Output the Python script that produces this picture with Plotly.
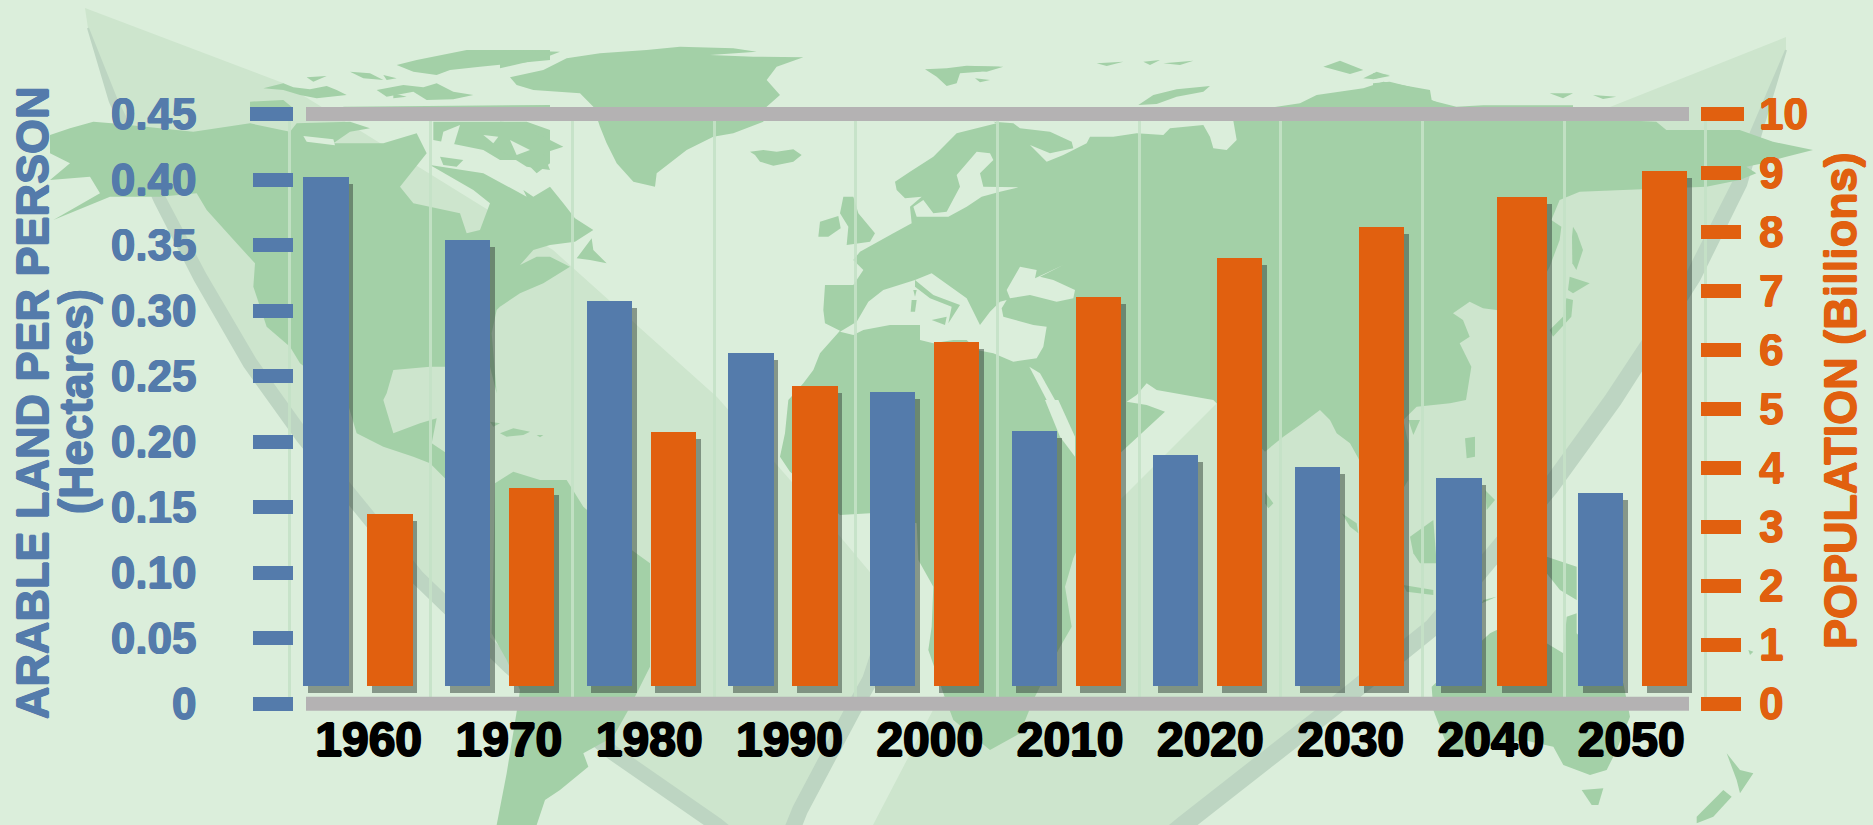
import plotly.graph_objects as go

# ---------- data ----------
years = [1960, 1970, 1980, 1990, 2000, 2010, 2020, 2030, 2040, 2050]
arable_land = [0.402, 0.354, 0.307, 0.268, 0.238, 0.208, 0.190, 0.181, 0.172, 0.161]
population = [3.21, 3.65, 4.61, 5.39, 6.13, 6.90, 7.56, 8.09, 8.59, 9.03]
left_ticks = [0, 0.05, 0.10, 0.15, 0.20, 0.25, 0.30, 0.35, 0.40, 0.45]
left_labels = ["0", "0.05", "0.10", "0.15", "0.20", "0.25", "0.30", "0.35", "0.40", "0.45"]
right_ticks = [0, 1, 2, 3, 4, 5, 6, 7, 8, 9, 10]
grid_years = [1955 + 10 * i for i in range(11)]

# ---------- layout constants (pixels of the 1873x825 page) ----------
W, H = 1873, 825
BG, LEAF, STEM, LAND = "#dbeedb", "#cde5cd", "#bdd5c2", "#a3d0a7"
BLUE, ORANGE, GREY, SHADOW = "#547bab", "#e1600f", "#b4b2b3", "rgba(55,70,62,0.52)"
FONT = "Liberation Sans"
Y_TOP, Y_ZERO = 114.0, 703.7
PX_YEAR = 14.165
X_1955 = 289.3
X_LO, X_HI = 1954, 2056


def xpx(year):
    return X_1955 + (year - 1955) * PX_YEAR


def fx(px):
    return px / W


def fy(px):
    return 1 - px / H


def z(x0, y0, pts):
    return [(x0 + a / 3, y0 + b / 3) for a, b in pts]


def path(pts, close=True):
    s = "M " + " L ".join(f"{fx(a):.5f},{fy(b):.5f}" for a, b in pts)
    return s + (" Z" if close else "")


def ribbon(pts, widths):
    left, right = [], []
    n = len(pts)
    for i, (a, b) in enumerate(pts):
        a0, b0 = pts[max(i - 1, 0)]
        a1, b1 = pts[min(i + 1, n - 1)]
        dx, dy = a1 - a0, b1 - b0
        d = (dx * dx + dy * dy) ** 0.5 or 1
        nx, ny = -dy / d * widths[i] / 2, dx / d * widths[i] / 2
        left.append((a + nx, b + ny))
        right.append((a - nx, b - ny))
    return left + right[::-1]


def heavy(color, d=0.7):
    return (f"{d}px 0 0 {color}, -{d}px 0 0 {color}, 0 {d}px 0 {color}, 0 -{d}px 0 {color}")


# ---------- background artwork ----------
left_stem = [(88, 28), (113, 100), (160, 200), (200, 277), (250, 363), (303, 437),
             (417, 577), (510, 667), (613, 753), (717, 825), (735, 840)]
left_upper = [(85, 8), (283, 83), (553, 250), (717, 397), (843, 540), (885, 590)]
mid_stem = [(880, 650), (870, 680), (853, 710), (800, 810), (790, 835)]
right_edge = [(1786, 37), (1610, 107), (1500, 165), (1300, 320), (1150, 470), (1010, 610), (933, 710), (873, 825)]
right_stem = [(1786, 50), (1756, 133), (1740, 183), (1693, 277), (1613, 400), (1550, 487), (1433, 627),
              (1330, 710), (1183, 825), (1165, 840)]

leaf_left = left_upper + [(880, 650), (800, 825)] + left_stem[::-1][1:]
leaf_right = right_edge + [(1183, 825)] + right_stem[::-1][2:]

old_world = (
    z(500, 0, [(1020, 992), (960, 1060), (940, 1110), (910, 1150)])
    + z(700, 400, [(265, 0), (255, 100), (240, 170), (270, 215), (420, 345), (510, 340), (650, 370), (655, 480),
                   (700, 560), (695, 680), (685, 750), (730, 880), (760, 960), (870, 1050), (960, 1000), (1000, 900),
                   (1075, 750), (1115, 680), (1095, 560), (1120, 475), (1260, 160), (1395, 35), (1340, 15), (1280, 5)])
    + z(950, 0, [(560, 1185), (590, 1150), (620, 1170), (760, 1195)])
    + z(1150, 400, [(190, 0), (345, 155), (400, 110), (450, 75), (510, 30), (540, 60), (560, 100), (600, 130),
                    (625, 175), (690, 340), (720, 330), (775, 240), (775, 130), (760, 60), (800, 20), (900, 10), (948, 0)])
    + z(1373, 0, [(295, 1100), (260, 1030), (290, 1010), (270, 960), (240, 940), (290, 905), (330, 925), (370, 930),
                  (450, 950), (530, 800), (560, 720), (565, 680), (535, 660), (560, 600), (620, 575), (750, 570),
                  (1000, 560), (1100, 540), (1150, 520), (1120, 500), (1170, 490), (1240, 470), (1320, 450),
                  (1200, 425), (1100, 390), (880, 390), (850, 365), (740, 360), (500, 355)])
    + z(950, 0, [(1000, 362), (900, 362), (850, 362), (860, 420), (830, 450), (790, 445), (780, 410), (760, 375),
                 (660, 385), (640, 405), (560, 400), (490, 410), (420, 410), (410, 430), (340, 465), (290, 485),
                 (240, 435), (300, 460), (370, 445), (365, 425), (300, 395), (210, 385), (190, 370), (130, 365)])
    + z(500, 0, [(1490, 370), (1370, 400), (1300, 470), (1230, 515), (1185, 545), (1190, 570), (1215, 595),
                 (1265, 590), (1230, 620), (1235, 670), (1180, 700), (1080, 755), (1060, 780), (1090, 810), (1060, 855),
                 (975, 855), (970, 930), (975, 970)])
)
north_america = (
    z(50, 0, [(0, 405), (60, 385), (130, 365), (185, 370), (430, 395), (600, 370), (720, 395), (740, 370), (900, 365),
              (960, 385), (900, 395), (850, 430), (1000, 430), (1100, 400), (1130, 460), (1050, 560), (1090, 610),
              (1230, 640), (1250, 700), (1290, 690), (1320, 610), (1270, 570), (1140, 495), (1300, 520), (1430, 590)])
    + z(500, 0, [(70, 570), (100, 590), (150, 560), (190, 610), (225, 655), (280, 690), (225, 725), (150, 735),
                 (100, 750), (60, 795), (110, 770), (150, 770), (210, 800), (130, 850), (60, 880), (0, 920)])
    + z(50, 0, [(1400, 870), (1340, 930), (1325, 1000), (1340, 1180), (1320, 1100), (1140, 1100), (1030, 1110), (1010, 1180)])
    + z(250, 400, [(400, 0), (430, 100), (510, 70), (560, 55), (545, 130), (590, 160), (590, 240), (540, 190),
                   (490, 170), (400, 140), (320, 100), (290, 0)])
    + z(50, 0, [(750, 1090), (720, 1040), (650, 980), (610, 860), (615, 790), (560, 730), (470, 630), (440, 580),
                (330, 590), (180, 590), (10, 660), (150, 580), (120, 530), (0, 540), (60, 490), (0, 460)])
)
south_america = z(250, 400, [(735, 250), (790, 215), (870, 240), (950, 240), (1000, 320), (1145, 450), (1200, 490),
                             (1200, 800), (1135, 930), (1090, 1010), (1000, 1060), (1015, 1100), (930, 1170),
                             (885, 1200), (860, 1275), (740, 1275), (770, 1120), (800, 935), (810, 870), (770, 780),
                             (725, 700), (730, 500)])
land = [old_world, north_america, south_america]
land += [z(50, 0, p) for p in [
    [(1040, 195), (1100, 180), (1250, 150), (1500, 150), (1500, 180), (1290, 200), (1200, 210), (1160, 225), (1090, 215)],
    [(1390, 235), (1450, 225), (1500, 215), (1500, 270), (1440, 265), (1420, 245)],
    [(900, 215), (960, 220), (1000, 240), (940, 235)],
    [(1000, 225), (1040, 235), (1010, 240)],
    [(640, 265), (700, 250), (730, 262), (780, 268), (830, 258), (860, 270), (890, 285), (800, 295), (750, 285), (700, 270)],
    [(980, 270), (1060, 255), (1120, 262), (1160, 250), (1210, 275), (1270, 285), (1210, 298), (1130, 300), (1090, 275), (1010, 290)],
    [(770, 232), (830, 228), (790, 245)],
    [(1030, 280), (1070, 290), (1030, 295)],
    [(600, 305), (700, 300), (730, 325), (600, 325)],
    [(880, 320), (1500, 315), (1500, 330), (880, 330)],
    [(1150, 365), (1430, 365), (1500, 390), (1500, 490), (1460, 520), (1420, 480), (1350, 480), (1300, 450), (1200, 430), (1150, 420)],
    [(1170, 470), (1240, 480), (1220, 500), (1180, 495)],
]]
land += [z(500, 0, p) for p in [
    [(0, 150), (180, 155), (130, 175), (0, 205)],
    [(0, 365), (90, 370), (110, 400), (190, 440), (130, 460), (150, 510), (80, 500), (0, 450)],
    [(30, 232), (130, 210), (200, 175), (300, 160), (440, 150), (540, 140), (700, 145), (770, 155), (630, 165), (760, 170),
     (910, 172), (830, 200), (800, 240), (840, 285), (800, 320), (790, 365), (700, 400), (640, 410), (560, 450), (470, 520),
     (465, 560), (400, 545), (350, 490), (320, 430), (300, 380), (295, 365), (280, 320), (240, 280), (100, 270), (50, 255)],
    [(750, 455), (790, 450), (830, 455), (880, 448), (905, 465), (880, 485), (820, 497), (780, 485), (765, 465)],
    [(1275, 208), (1340, 205), (1400, 197), (1500, 200), (1440, 215), (1380, 220), (1370, 250), (1340, 258), (1310, 230)],
    [(1425, 235), (1470, 240), (1440, 247)],
    [(230, 775), (275, 715), (280, 750), (320, 790), (270, 780)],
    [(960, 665), (1015, 648), (1022, 685), (985, 710), (955, 710)],
    [(1030, 590), (1060, 590), (1075, 640), (1125, 700), (1110, 725), (1040, 735), (1045, 680), (1020, 640)],
]]
land += [z(950, 0, p) for p in [
    [(40, 198), (160, 200), (110, 215), (50, 212)],
    [(565, 315), (610, 285), (680, 268), (780, 258), (760, 275), (680, 290), (620, 312)],
    [(440, 190), (520, 185), (470, 198)], [(580, 185), (630, 180), (600, 195)], [(640, 190), (730, 182), (690, 195)],
    [(1120, 200), (1170, 182), (1240, 210), (1200, 222)], [(1240, 235), (1280, 215), (1320, 228), (1270, 238)],
    [(950, 325), (1050, 310), (1100, 285), (1240, 265), (1300, 245), (1440, 270), (1445, 300), (1500, 325)],
]]
land += [z(1373, 0, p) for p in [
    [(0, 250), (50, 245), (170, 275), (170, 300), (250, 320), (330, 316), (600, 316), (600, 330), (0, 330)],
    [(530, 280), (600, 280), (570, 295)], [(660, 285), (730, 290), (690, 297)], [(0, 220), (50, 225), (0, 238)],
    [(600, 680), (612, 700), (630, 750), (610, 810), (598, 790), (597, 710)],
    [(590, 830), (650, 850), (600, 880), (585, 870)],
    [(580, 895), (600, 900), (595, 950), (540, 1010), (530, 990), (570, 950)],
]]
land += [z(1150, 400, p) for p in [
    [(345, 275), (370, 310), (355, 325), (345, 310)],
    [(780, 410), (850, 360), (860, 490), (810, 490), (790, 460)],
    [(760, 555), (850, 570), (850, 585), (770, 575)],
    [(575, 340), (620, 370), (625, 400), (600, 380)],
    [(775, 60), (810, 60), (790, 105)],
    [(945, 115), (975, 110), (975, 170), (950, 175)],
    [(1005, 270), (1035, 300), (1010, 330)],
    [(995, 610), (1040, 590), (1000, 600)],
    [(1190, 470), (1280, 500), (1280, 600), (1230, 570), (1190, 520)],
    [(845, 860), (1020, 700), (1040, 690), (1190, 730), (1240, 760), (1250, 650), (1280, 640), (1280, 700), (1420, 850),
     (1440, 950), (1400, 1050), (1370, 1110), (1320, 1125), (1240, 1095), (1210, 1040), (1120, 1020), (900, 1060), (850, 930)],
    [(1295, 1170), (1360, 1165), (1345, 1215), (1325, 1215)],
]]
land += [z(1500, 400, p) for p in [
    [(680, 1060), (720, 1110), (760, 1120), (720, 1180), (710, 1140)],
    [(670, 1170), (695, 1190), (640, 1250), (590, 1270), (590, 1250)],
    [(745, 750), (760, 755), (750, 765)],
]]
land += [z(250, 400, p) for p in [
    [(750, 100), (790, 85), (840, 95), (820, 105), (770, 110)],
    [(860, 105), (880, 105), (870, 112)],
    [(720, 65), (750, 70), (730, 80)],
]]

seas = [
    z(500, 0, [(1020, 995), (1070, 965), (1105, 905), (1150, 870), (1245, 840), (1295, 820), (1400, 895), (1440, 975), (1470, 935),
               (1500, 905), (1520, 900), (1505, 925), (1510, 950), (1600, 975), (1640, 980), (1630, 1040), (1610, 1075),
               (1540, 1085), (1480, 1060), (1430, 1050), (1400, 1020), (1360, 1020), (1300, 1030), (1260, 1020), (1260, 975),
               (1170, 975), (1090, 990), (1060, 1005)]),
    z(950, 0, [(170, 870), (210, 800), (260, 810), (255, 835), (340, 795), (270, 830), (310, 840), (375, 870), (370, 895),
               (320, 905), (240, 885), (180, 895)]),
    z(700, 400, [(1035, 0), (1075, 0), (1125, 110), (1125, 170), (1080, 110)]),
    z(950, 0, [(238, 1100), (270, 1120), (315, 1200), (290, 1200)]),
    z(500, 0, [(1470, 460), (1430, 455), (1370, 525), (1380, 560), (1340, 635), (1300, 640), (1270, 600), (1240, 620), (1250, 650),
               (1345, 650), (1400, 620), (1445, 590), (1500, 575), (1555, 562), (1450, 560), (1440, 520), (1480, 480)]),
    # channels through the Canadian arctic
    z(50, 0, [(760, 408), (850, 418), (855, 436), (770, 425)]),
    z(50, 0, [(1000, 395), (1060, 385), (1040, 410)]),
    z(50, 0, [(1180, 395), (1230, 375), (1210, 440), (1165, 462)]),
    z(50, 0, [(1300, 405), (1345, 410), (1330, 430)]),
    z(50, 0, [(1240, 440), (1290, 465), (1260, 490)]),
    z(50, 0, [(1380, 420), (1440, 450), (1400, 465)]),
]
med_land = [
    z(500, 0, [(1245, 840), (1300, 885), (1380, 915), (1345, 970), (1355, 920), (1290, 895), (1245, 860)]),
    z(500, 0, [(1295, 960), (1340, 950), (1335, 975)]),
    z(500, 0, [(1235, 900), (1250, 900), (1245, 935), (1232, 935)]),
    z(500, 0, [(1240, 870), (1250, 870), (1245, 890)]),
]


def fill_shape(pts, color, layer="below"):
    return dict(type="path", xref="paper", yref="paper", path=path(pts), fillcolor=color,
                line=dict(width=0), layer=layer)


def rect_shape(x0, x1, y0, y1, color):
    return dict(type="rect", xref="paper", yref="paper", x0=fx(x0), x1=fx(x1),
                y0=fy(y0), y1=fy(y1), fillcolor=color, line=dict(width=0), layer="above")


shapes = [fill_shape(leaf_left, LEAF), fill_shape(leaf_right, LEAF)]
shapes.append(fill_shape(ribbon(left_stem, [2, 9, 13, 14, 15, 15, 15, 15, 15, 15, 15]), STEM))
shapes.append(fill_shape(ribbon(mid_stem, [16, 16, 16, 16, 16]), STEM))
shapes.append(fill_shape(ribbon(right_stem, [2, 12, 15, 16, 18, 18, 18, 18, 18, 18]), STEM))
shapes += [fill_shape(p, LAND) for p in land]
shapes += [fill_shape(p, BG) for p in seas]
shapes += [fill_shape(p, LAND) for p in med_land]
# top and bottom grey bands, and the slightly longer top tick ends
for yp in (Y_TOP, Y_ZERO):
    shapes.append(rect_shape(306, 1689, yp - 7, yp + 7, GREY))
shapes.append(rect_shape(250, 254, Y_TOP - 7, Y_TOP + 7, BLUE))
shapes.append(rect_shape(1740, 1744, Y_TOP - 7, Y_TOP + 7, ORANGE))

# ---------- bars ----------
BAR_W = 45.3 / PX_YEAR
BASE_PX = 18.0
SHADOW_DX, SHADOW_DY = 4.7, 7.0
left_unit = 0.45 / (Y_ZERO - Y_TOP)
right_unit = 10 / (Y_ZERO - Y_TOP)

blue_off = [-56.7 / PX_YEAR] * len(years)
blue_w = [BAR_W] * len(years)
orange_off = [7.3 / PX_YEAR] * len(years)
orange_w = [BAR_W] * len(years)
orange_off[8] = 3.7 / PX_YEAR
orange_w[8] = 50 / PX_YEAR


def bar(values, unit, offs, widths, color, yaxis, shifted):
    base = (BASE_PX - (SHADOW_DY if shifted else 0)) * unit
    drop = SHADOW_DY * unit if shifted else 0
    dx = SHADOW_DX / PX_YEAR if shifted else 0
    return go.Bar(x=years, y=[v - drop - base for v in values], base=base, width=widths,
                  offset=[o + dx for o in offs], marker=dict(color=color, line=dict(width=0)),
                  yaxis=yaxis, showlegend=False, hoverinfo="skip")


fig = go.Figure()
fig.add_trace(bar(arable_land, left_unit, blue_off, blue_w, SHADOW, "y", True))
fig.add_trace(bar(population, right_unit, orange_off, orange_w, SHADOW, "y2", True))
fig.add_trace(bar(arable_land, left_unit, blue_off, blue_w, BLUE, "y", False))
fig.add_trace(bar(population, right_unit, orange_off, orange_w, ORANGE, "y2", False))

ann = dict(xref="paper", yref="paper", xanchor="center", yanchor="middle", showarrow=False, textangle=-90)
annotations = [
    dict(text="<b>ARABLE LAND PER PERSON</b>", x=fx(32.5), y=fy(402.5),
         font=dict(family=FONT, size=45, color=BLUE, shadow=heavy(BLUE)), **ann),
    dict(text="<b>(Hectares)</b>", x=fx(76), y=fy(402),
         font=dict(family=FONT, size=46, color=BLUE, shadow=heavy(BLUE)), **ann),
    dict(text="<b>POPULATION (Billions)</b>", x=fx(1840), y=fy(401),
         font=dict(family=FONT, size=45, color=ORANGE, shadow=heavy(ORANGE)), **ann),
]

label_pos = [y + 0.6 - 0.0096 * (y - 1960) for y in years]

fig.update_layout(
    template="none",
    width=W, height=H, autosize=False,
    margin=dict(l=0, r=0, t=0, b=0, pad=0),
    paper_bgcolor=BG, plot_bgcolor="rgba(0,0,0,0)",
    barmode="overlay", bargap=0,
    shapes=shapes, annotations=annotations,
    xaxis=dict(
        automargin=False,
        domain=[fx(xpx(X_LO)), fx(xpx(X_HI))], range=[X_LO, X_HI], anchor="y",
        tickmode="array", tickvals=label_pos, ticktext=[str(y) for y in years],
        ticks="", showline=False, showgrid=False, zeroline=False, ticklabelstandoff=3,
        tickfont=dict(family=FONT, size=48, color="#000000", weight=700, shadow=heavy("#000", 1)),
        minor=dict(tickmode="array", tickvals=grid_years, showgrid=True,
                   gridcolor="rgba(196,225,199,0.9)", gridwidth=3, ticks=""),
    ),
    yaxis=dict(
        automargin=False,
        domain=[fy(Y_ZERO), fy(Y_TOP)], range=[0, 0.45], anchor="free", position=fx(293.3), side="left",
        tickmode="array", tickvals=left_ticks, ticktext=left_labels,
        ticks="outside", ticklen=40, tickwidth=14, tickcolor=BLUE, ticklabelstandoff=48,
        showgrid=False, zeroline=False, showline=False,
        tickfont=dict(family=FONT, size=44, color=BLUE, weight=700, shadow=heavy(BLUE)),
    ),
    yaxis2=dict(
        automargin=False,
        domain=[fy(Y_ZERO), fy(Y_TOP)], range=[0, 10], anchor="free", position=fx(1700.3), side="right",
        overlaying="y", tickmode="array", tickvals=right_ticks,
        ticks="outside", ticklen=40, tickwidth=14, tickcolor=ORANGE, ticklabelstandoff=9,
        showgrid=False, zeroline=False, showline=False,
        tickfont=dict(family=FONT, size=44, color=ORANGE, weight=700, shadow=heavy(ORANGE)),
    ),
)

fig.write_html("out.html", config={"displayModeBar": False},
               post_script="document.body.style.margin='0';document.body.style.background='#dbeedb';document.body.style.overflow='hidden';")
